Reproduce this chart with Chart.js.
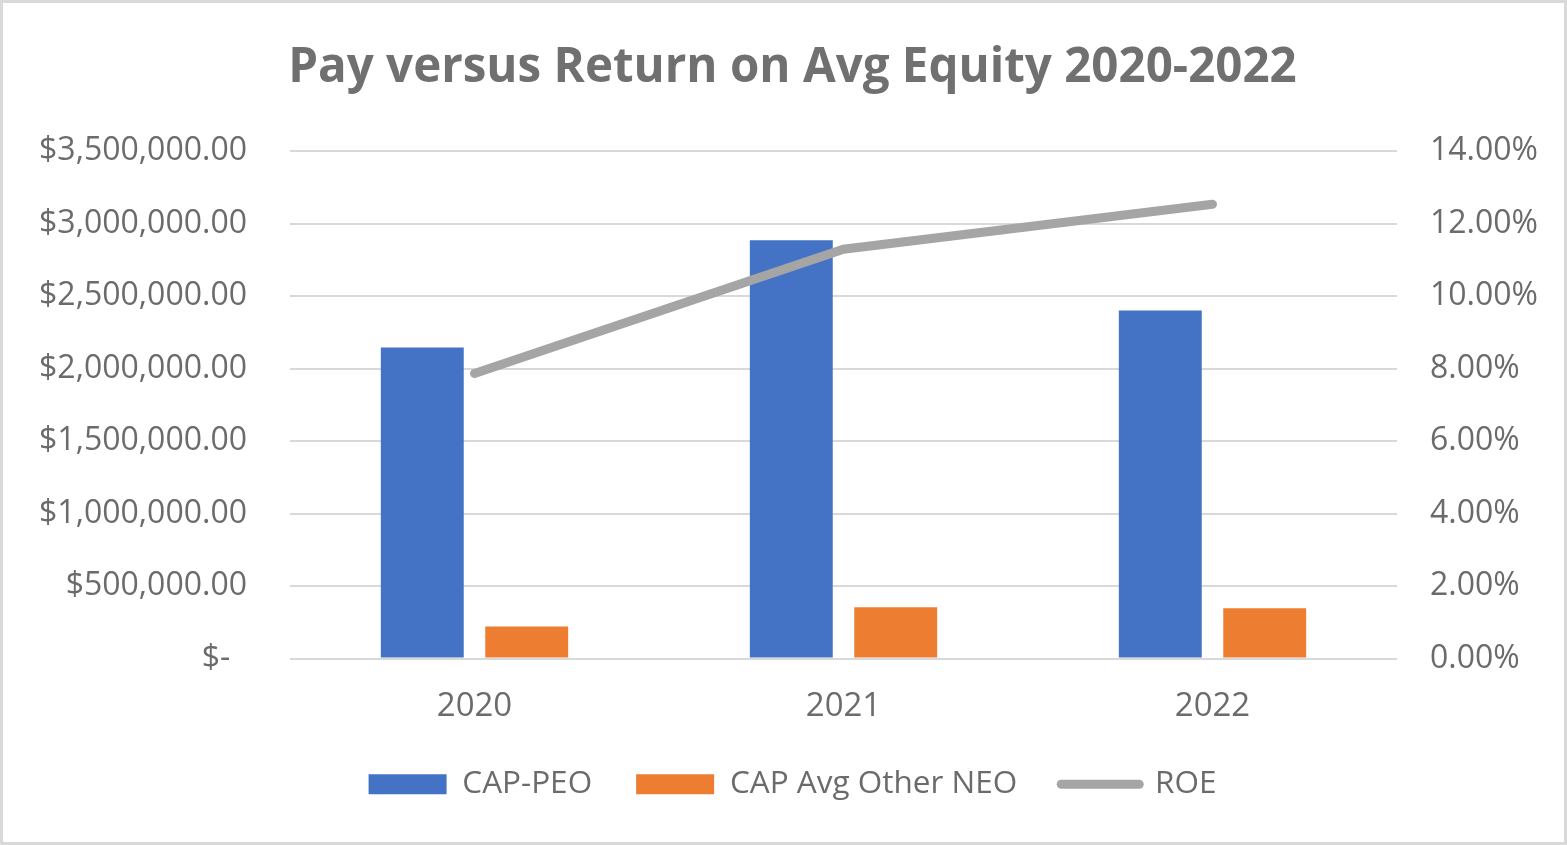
<!DOCTYPE html>
<html>
<head>
<meta charset="utf-8">
<script src="https://cdn.jsdelivr.net/npm/chart.js@4/dist/chart.umd.min.js"></script>
<style>
  html, body { margin: 0; padding: 0; background: #ffffff; }
  #wrap {
    position: relative;
    width: 1567px;
    height: 845px;
    box-sizing: border-box;
    border: 3px solid #d9d9d9;
    background: #ffffff;
  }
</style>
</head>
<body>
<div id="wrap"><canvas id="payChart"></canvas></div>
<script>
// chart values
const years = ['2020', '2021', '2022'];
const capPeo = [2144000, 2884000, 2400000];
const capOtherNeo = [221000, 353000, 346000];
const roe = [7.86, 11.29, 12.53]; // percent

const textGrey = '#6b6b6b';
const gridGrey = '#d9d9d9';

function moneyLabel(value) {
  if (value === 0) return '$-  ';
  return '$' + value.toLocaleString('en-US', { minimumFractionDigits: 2, maximumFractionDigits: 2 });
}

const ctx = document.getElementById('payChart').getContext('2d');

new Chart(ctx, {
  data: {
    labels: years,
    datasets: [
      {
        type: 'line',
        label: 'ROE',
        data: roe,
        yAxisID: 'y1',
        borderColor: '#a5a5a5',
        backgroundColor: '#a5a5a5',
        borderWidth: 9,
        borderCapStyle: 'round',
        pointRadius: 0,
        pointHoverRadius: 0,
        tension: 0,
        order: 0
      },
      {
        type: 'bar',
        label: 'CAP-PEO',
        data: capPeo,
        yAxisID: 'y',
        backgroundColor: '#4472c4',
        borderWidth: 0,
        categoryPercentage: 0.566,
        barPercentage: 0.794,
        order: 1
      },
      {
        type: 'bar',
        label: 'CAP Avg Other NEO',
        data: capOtherNeo,
        yAxisID: 'y',
        backgroundColor: '#ed7d31',
        borderWidth: 0,
        categoryPercentage: 0.566,
        barPercentage: 0.794,
        order: 1
      }
    ]
  },
  options: {
    responsive: true,
    maintainAspectRatio: false,
    devicePixelRatio: 1,
    animation: false,
    layout: { padding: { left: 18, right: 0, top: 0, bottom: 32 } },
    plugins: {
      tooltip: { enabled: false },
      title: {
        display: true,
        text: 'Pay versus Return on Avg Equity 2020-2022',
        color: '#707070',
        font: { family: 'Open Sans', size: 47.5, weight: 'bold' },
        padding: { top: 37, bottom: 54 }
      },
      legend: {
        position: 'bottom',
        labels: {
          color: textGrey,
          font: { family: 'Open Sans', size: 31.5 },
          usePointStyle: true,
          pointStyleWidth: 78,
          boxHeight: 20,
          padding: 44,
          generateLabels: function (chart) {
            const order = [1, 2, 0];
            return order.map(i => {
              const ds = chart.data.datasets[i];
              const isLine = ds.type === 'line';
              return {
                text: ds.label,
                datasetIndex: i,
                fillStyle: ds.backgroundColor,
                strokeStyle: isLine ? ds.borderColor : ds.backgroundColor,
                lineWidth: isLine ? 9 : 0,
                lineCap: isLine ? 'round' : 'butt',
                pointStyle: isLine ? 'line' : 'rect',
                fontColor: textGrey,
                hidden: false
              };
            });
          }
        }
      }
    },
    scales: {
      x: {
        grid: { display: false, drawTicks: false },
        border: { display: false },
        ticks: {
          color: textGrey,
          font: { family: 'Open Sans', size: 33 },
          padding: 28
        },
        afterFit: function (scale) { scale.height = 66; }
      },
      y: {
        position: 'left',
        min: 0,
        max: 3500000,
        grid: { color: gridGrey, lineWidth: 2, drawTicks: false },
        border: { display: false },
        ticks: {
          stepSize: 500000,
          color: textGrey,
          font: { family: 'Open Sans', size: 32 },
          padding: 43,
          callback: moneyLabel
        },
        afterFit: function (scale) { scale.width = 269; }
      },
      y1: {
        position: 'right',
        min: 0,
        max: 14,
        grid: { display: false, drawTicks: false },
        border: { display: false },
        ticks: {
          stepSize: 2,
          color: textGrey,
          font: { family: 'Open Sans', size: 32 },
          padding: 33,
          callback: function (value) { return value.toFixed(2) + '%'; }
        },
        afterFit: function (scale) { scale.width = 167; }
      }
    }
  }
});
</script>
</body>
</html>
